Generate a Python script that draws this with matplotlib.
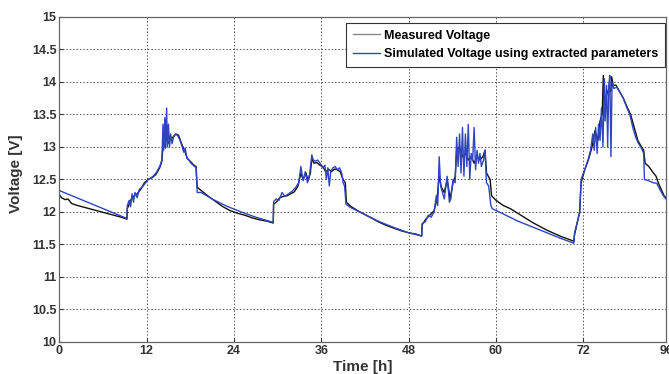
import matplotlib
matplotlib.use("Agg")
import matplotlib.pyplot as plt

plt.rcParams['font.family'] = ['Liberation Sans Narrow', 'Liberation Sans', 'DejaVu Sans']
plt.rcParams['font.weight'] = 'bold'

# measured battery voltage
t_meas = [0, 0.3, 0.8, 1.2, 1.7, 2.5, 3.5, 4.5, 5.5, 6.5, 7.5, 8.5, 9.3,
          9.35, 9.6, 9.9, 10.3, 10.7, 11.2, 11.7, 12.2, 12.8, 13.3, 13.8, 14.1, 14.3, 14.5, 14.7, 14.9,
          15.2, 15.6, 16.0, 16.4, 16.8, 17.2, 17.6, 18.0, 18.5, 18.8, 18.95, 19.5, 20.5, 21.5, 22.5,
          23.5, 24.5, 25.5, 26.5, 27.5, 28.5, 29.4,
          29.45, 29.8, 30.3, 30.8, 31.3, 31.8, 32.3, 32.8, 33.2, 33.5, 33.9, 34.2, 34.5, 34.7, 35.0,
          35.4, 35.8, 36.2, 36.6, 37.0, 37.4, 37.8, 38.2, 38.6, 39.0, 39.3, 39.45, 40, 41, 42, 43, 44,
          45, 46, 47, 48, 49, 49.8,
          49.85, 50.3, 50.7, 51.1, 51.5, 51.9, 52.2, 52.5, 52.9, 53.3, 53.7, 54.1, 54.4, 54.6, 55.0,
          55.4, 55.8, 56.2, 56.6, 57.0, 57.4, 57.8, 58.2, 58.5, 58.7, 59.2, 59.4, 60, 61, 62, 63, 64,
          65, 66, 67, 68, 69, 70, 70.7,
          70.8, 71.2, 71.5, 71.7, 72.2, 72.7, 73.2, 73.6, 74.0, 74.3, 74.6, 74.75, 74.9, 75.2, 75.5,
          75.8, 75.9, 76.1, 76.5, 77.0, 77.5, 78.0, 78.5, 79.0, 79.5, 80.0, 80.3, 80.5, 81.0, 81.5,
          82.0, 82.3, 82.7, 83.1, 83.5]
v_meas = [12.27, 12.22, 12.19, 12.20, 12.13, 12.10, 12.07, 12.04, 12.01, 11.98, 11.95, 11.92, 11.89,
          12.05, 12.12, 12.20, 12.25, 12.28, 12.35, 12.45, 12.50, 12.53, 12.58, 12.68, 12.78, 13.10, 13.00, 13.20, 13.05,
          13.10, 13.15, 13.20, 13.18, 13.05, 12.95, 12.82, 12.78, 12.72, 12.70, 12.38, 12.33, 12.24, 12.16, 12.08,
          12.02, 11.98, 11.95, 11.91, 11.88, 11.86, 11.83,
          12.12, 12.15, 12.22, 12.24, 12.25, 12.28, 12.31, 12.40, 12.60, 12.50, 12.60, 12.48, 12.60, 12.82, 12.75,
          12.76, 12.72, 12.70, 12.62, 12.66, 12.62, 12.66, 12.65, 12.62, 12.50, 12.45, 12.15, 12.09, 12.02, 11.96, 11.90, 11.84,
          11.79, 11.75, 11.71, 11.68, 11.66, 11.63,
          11.80, 11.88, 11.93, 11.97, 12.02, 12.20, 12.55, 12.38, 12.30, 12.50, 12.20, 12.45, 12.55, 12.95, 13.00,
          12.85, 12.90, 12.80, 12.85, 12.75, 12.85, 12.80, 12.85, 12.95, 12.60, 12.50, 12.25, 12.18, 12.10, 12.05, 11.98, 11.91,
          11.84, 11.78, 11.72, 11.67, 11.62, 11.58, 11.55,
          11.65, 11.85, 12.00, 12.45, 12.65, 12.80, 13.00, 13.25, 13.10, 13.40, 13.50, 14.10, 13.60, 13.80, 13.90,
          13.85, 14.08, 13.95, 13.95, 13.85, 13.75, 13.62, 13.50, 13.30, 13.10, 13.00, 12.95, 12.75, 12.70, 12.62,
          12.55, 12.45, 12.35, 12.25, 12.20]

# simulated voltage with extracted parameters
t_sim = [0, 9.3,
         9.35, 9.6, 9.8, 10.0, 10.2, 10.4, 10.7, 11.0, 11.4, 11.8, 12.2, 12.8, 13.3, 13.8, 14.1, 14.25,
         14.35, 14.5, 14.6, 14.75, 14.85, 15.0, 15.15, 15.3, 15.5, 15.7, 16.0, 16.3, 16.6, 16.9, 17.1,
         17.3, 17.5, 17.8, 18.1, 18.4, 18.8, 18.95, 19.5, 21, 23, 25, 27, 29.4,
         29.45, 29.8, 30.2, 30.6, 31.0, 31.5, 32.0, 32.5, 32.9, 33.2, 33.5, 33.8, 34.1, 34.4, 34.7,
         34.9, 35.2, 35.5, 35.9, 36.2, 36.5, 36.7, 36.9, 37.1, 37.3, 37.6, 37.9, 38.2, 38.5, 38.8,
         39.0, 39.2, 39.4, 40, 42, 44, 46, 48, 49.8,
         49.85, 50.3, 50.7, 51.1, 51.5, 51.8, 52.0, 52.2, 52.4, 52.6, 52.9, 53.3, 53.6, 53.8, 54.1,
         54.4, 54.6, 54.8, 55.0, 55.2, 55.4, 55.6, 55.8, 56.0, 56.2, 56.4, 56.6, 56.8, 57.0, 57.2,
         57.4, 57.6, 57.8, 58.0, 58.3, 58.5, 58.7, 59.0, 59.3, 59.5, 61, 63, 65, 67, 69, 70.7,
         70.8, 71.3, 71.5, 71.7, 72.2, 72.7, 73.0, 73.3, 73.5, 73.7, 73.9, 74.1, 74.3, 74.5, 74.7,
         74.9, 75.0, 75.2, 75.35, 75.5, 75.65, 75.8, 75.95, 76.2, 76.6, 77.0, 77.5, 78.0, 78.4, 78.8,
         79.2, 79.6, 80.0, 80.3, 80.4, 81.0, 81.6, 82.1, 82.5, 83.0, 83.5]
v_sim = [12.33, 11.90,
         12.10, 12.18, 12.08, 12.28, 12.15, 12.30, 12.22, 12.35, 12.38, 12.44, 12.50, 12.54, 12.60, 12.70, 12.80, 13.35,
         12.95, 13.45, 12.98, 13.60, 13.00, 13.35, 13.00, 13.20, 13.05, 13.15, 13.20, 13.17, 13.10, 13.00, 12.92,
         12.98, 12.85, 12.80, 12.75, 12.72, 12.68, 12.30, 12.30, 12.20, 12.09, 12.00, 11.92, 11.84,
         12.16, 12.20, 12.18, 12.30, 12.24, 12.28, 12.32, 12.38, 12.45, 12.70, 12.48, 12.62, 12.45, 12.58, 12.88,
         12.80, 12.78, 12.80, 12.74, 12.68, 12.72, 12.50, 12.68, 12.40, 12.62, 12.68, 12.70, 12.65, 12.68, 12.60,
         12.45, 12.40, 12.12, 12.07, 11.96, 11.85, 11.76, 11.68, 11.63,
         11.82, 11.85, 11.95, 11.92, 12.00, 12.25, 12.10, 12.85, 12.40, 12.32, 12.20, 12.55, 12.15, 12.20, 12.50,
         12.45, 13.15, 12.70, 13.20, 12.60, 13.30, 12.55, 13.20, 12.70, 13.35, 12.50, 12.90, 12.80, 13.30, 12.65,
         12.95, 12.75, 12.90, 12.70, 12.80, 12.95, 12.45, 12.40, 12.10, 12.05, 11.97, 11.86, 11.77, 11.68, 11.59, 11.52,
         11.68, 11.90, 11.98, 12.50, 12.65, 12.82, 12.95, 13.20, 12.95, 13.30, 12.90, 13.35, 13.10, 13.60, 13.00,
         14.05, 13.40, 13.95, 13.00, 13.95, 14.10, 12.85, 14.00, 13.90, 13.92, 13.85, 13.75, 13.60, 13.50, 13.30,
         13.15, 13.05, 12.98, 12.90, 12.50, 12.48, 12.45, 12.44, 12.35, 12.25, 12.18]

x_ticks = [0, 12, 24, 36, 48, 60, 72, 83.4]
x_labels = ['0', '12', '24', '36', '48', '60', '72', '96']
y_ticks = [10, 10.5, 11, 11.5, 12, 12.5, 13, 13.5, 14, 14.5, 15]
y_labels = ['10', '10.5', '11', '11.5', '12', '12.5', '13', '13.5', '14', '14.5', '15']

fig = plt.figure(figsize=(6.69, 3.74), dpi=100)
ax = fig.add_axes([0.0886, 0.0856, 0.9073, 0.869])

ax.plot(t_meas, v_meas, color='#111111', lw=1.0, label='Measured Voltage')
ax.plot(t_sim, v_sim, color='#2f45c0', lw=1.0, label='Simulated Voltage using extracted parameters')

ax.set_xlim(0, 83.4)
ax.set_ylim(10, 15)
ax.set_xticks(x_ticks)
ax.set_xticklabels(x_labels)
ax.set_yticks(y_ticks)
ax.set_yticklabels(y_labels)
ax.tick_params(direction='in', length=3, labelsize=9, colors='#333333', pad=2)
for lab in ax.get_xticklabels() + ax.get_yticklabels():
    lab.set_fontweight('bold')
for s in ax.spines.values():
    s.set_color('#666666')
    s.set_linewidth(0.9)

ax.grid(True, linestyle=(0, (1.5, 2)), color='#555555', lw=0.7)

ax.set_xlabel('Time [h]', fontsize=11, fontweight='bold', color='#333333', labelpad=2)
ax.set_ylabel('Voltage [V]', fontsize=11, fontweight='bold', color='#333333')
ax.yaxis.set_label_coords(-0.06, 0.517)

leg = ax.legend(loc='upper right', bbox_to_anchor=(0.998, 0.982), borderaxespad=0,
                frameon=True, fancybox=False, framealpha=1,
                handlelength=2.2, handletextpad=0.3, borderpad=0.55, labelspacing=0.5,
                prop={'weight': 'bold', 'size': 9})
leg.get_frame().set_edgecolor('#333333')
leg.get_frame().set_linewidth(0.8)
leg.get_lines()[0].set_color('#888888')

fig.savefig('out.png', dpi=100)
